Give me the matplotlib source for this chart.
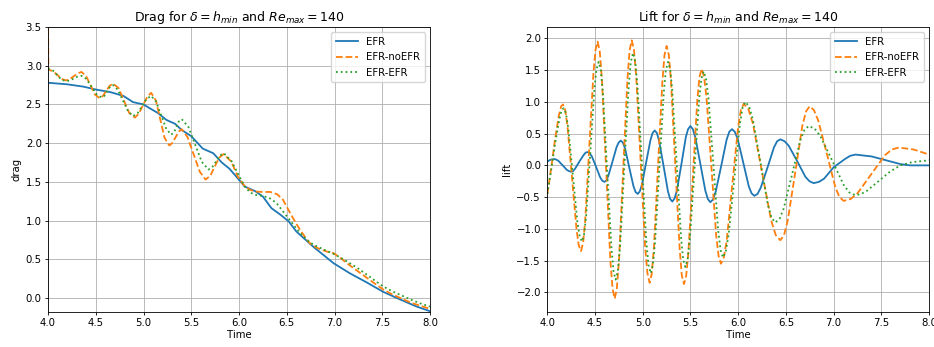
import matplotlib
matplotlib.use("Agg")
import matplotlib.pyplot as plt

# ---------------------------------------------------------------------------
# Data
# ---------------------------------------------------------------------------
LABELS = ["EFR", "EFR-noEFR", "EFR-EFR"]

drag_efr_t = [4.00, 4.20, 4.37, 4.51, 4.65, 4.79, 4.89, 5.00, 5.08, 5.15, 5.24,
              5.33, 5.40, 5.50, 5.62, 5.73, 5.82, 5.90, 5.97, 6.06, 6.17, 6.25,
              6.34, 6.43, 6.52, 6.60, 6.69, 6.79, 6.90, 6.99, 7.16, 7.34, 7.51,
              7.69, 7.86, 8.00]
drag_efr_v = [2.78, 2.76, 2.73, 2.69, 2.66, 2.61, 2.53, 2.50, 2.44, 2.39, 2.30,
              2.25, 2.17, 2.09, 1.93, 1.87, 1.75, 1.67, 1.57, 1.44, 1.38, 1.31,
              1.16, 1.08, 0.99, 0.86, 0.76, 0.65, 0.54, 0.45, 0.32, 0.20, 0.08,
              -0.02, -0.11, -0.17]

drag_noefr_t = [4.000, 4.004, 4.05, 4.10, 4.14, 4.19, 4.23, 4.27, 4.31, 4.35,
                4.397, 4.445, 4.49, 4.54, 4.575, 4.61, 4.645, 4.68, 4.74, 4.795,
                4.85, 4.91, 4.95, 4.995, 5.04, 5.08, 5.13, 5.175, 5.22, 5.27,
                5.30, 5.335, 5.37, 5.40, 5.46, 5.525, 5.59, 5.65, 5.70, 5.745,
                5.79, 5.84, 5.92, 5.99, 6.05, 6.11, 6.17, 6.25, 6.33, 6.40,
                6.46, 6.53, 6.59, 6.64, 6.69, 6.74, 6.80, 6.85, 6.92, 6.99,
                7.06, 7.13, 7.24, 7.34, 7.43, 7.51, 7.60, 7.69, 7.80, 7.90, 8.00]
drag_noefr_v = [3.60, 2.95, 2.93, 2.88, 2.83, 2.81, 2.83, 2.865, 2.90, 2.92,
                2.87, 2.75, 2.63, 2.58, 2.61, 2.675, 2.74, 2.77, 2.71, 2.55,
                2.39, 2.33, 2.38, 2.49, 2.60, 2.65, 2.55, 2.31, 2.07, 1.97,
                2.00, 2.075, 2.15, 2.18, 2.08, 1.855, 1.63, 1.53, 1.58, 1.695,
                1.81, 1.86, 1.76, 1.56, 1.46, 1.40, 1.375, 1.37, 1.37, 1.34,
                1.27, 1.11, 0.98, 0.88, 0.79, 0.71, 0.66, 0.63, 0.60, 0.58,
                0.52, 0.45, 0.35, 0.26, 0.18, 0.11, 0.05, 0.00, -0.06, -0.10, -0.14]

drag_efrefr_t = [4.00, 4.05, 4.095, 4.14, 4.19, 4.23, 4.27, 4.31, 4.35, 4.40,
                 4.455, 4.51, 4.56, 4.59, 4.62, 4.65, 4.68, 4.73, 4.785, 4.84,
                 4.89, 4.94, 4.985, 5.03, 5.08, 5.13, 5.185, 5.24, 5.29, 5.32,
                 5.345, 5.37, 5.40, 5.47, 5.54, 5.61, 5.68, 5.72, 5.76, 5.80,
                 5.84, 5.92, 6.00, 6.06, 6.12, 6.18, 6.25, 6.32, 6.39, 6.46,
                 6.53, 6.60, 6.67, 6.74, 6.81, 6.90, 6.99, 7.08, 7.16, 7.25,
                 7.34, 7.43, 7.51, 7.60, 7.69, 7.80, 7.90, 8.00]
drag_efrefr_v = [2.96, 2.94, 2.88, 2.82, 2.80, 2.81, 2.835, 2.86, 2.87, 2.83,
                 2.73, 2.63, 2.59, 2.61, 2.67, 2.73, 2.75, 2.69, 2.55, 2.41,
                 2.35, 2.39, 2.48, 2.57, 2.61, 2.54, 2.36, 2.18, 2.11, 2.14,
                 2.21, 2.28, 2.31, 2.21, 1.985, 1.76, 1.66, 1.69, 1.765, 1.84,
                 1.87, 1.77, 1.58, 1.44, 1.36, 1.33, 1.32, 1.29, 1.23, 1.12,
                 1.01, 0.90, 0.80, 0.72, 0.67, 0.62, 0.57, 0.51, 0.45, 0.38,
                 0.30, 0.22, 0.15, 0.09, 0.04, -0.02, -0.07, -0.11]

lift_efr_t = [4.000, 4.035, 4.073, 4.095, 4.117, 4.161, 4.204, 4.226, 4.248, 4.270,
              4.292, 4.336, 4.379, 4.401, 4.423, 4.445, 4.467, 4.510, 4.554, 4.575,
              4.597, 4.619, 4.640, 4.683, 4.726, 4.748, 4.769, 4.791, 4.814, 4.858,
              4.903, 4.925, 4.947, 4.969, 4.992, 5.036, 5.081, 5.103, 5.125, 5.148,
              5.171, 5.218, 5.264, 5.287, 5.310, 5.334, 5.357, 5.405, 5.452, 5.475,
              5.499, 5.525, 5.551, 5.604, 5.656, 5.682, 5.708, 5.736, 5.765, 5.822,
              5.878, 5.907, 5.935, 5.964, 5.994, 6.052, 6.111, 6.140, 6.169, 6.203,
              6.237, 6.306, 6.374, 6.408, 6.442, 6.486, 6.529, 6.617, 6.704, 6.747,
              6.791, 6.846, 6.900, 7.000, 7.119, 7.173, 7.228, 7.40, 7.55, 7.70,
              7.80, 8.00]
lift_efr_v = [0.06, 0.09, 0.10, 0.09, 0.07, 0.00, -0.07, -0.09, -0.10, -0.09,
              -0.05, 0.06, 0.16, 0.20, 0.21, 0.19, 0.14, -0.02, -0.19, -0.24,
              -0.26, -0.24, -0.16, 0.06, 0.29, 0.36, 0.39, 0.36, 0.27, -0.03,
              -0.33, -0.42, -0.45, -0.41, -0.30, 0.05, 0.40, 0.51, 0.55, 0.51,
              0.39, -0.01, -0.41, -0.53, -0.57, -0.52, -0.40, 0.02, 0.45, 0.57,
              0.62, 0.57, 0.44, 0.02, -0.40, -0.53, -0.58, -0.54, -0.41, -0.01,
              0.40, 0.53, 0.57, 0.53, 0.42, 0.05, -0.33, -0.44, -0.48, -0.45,
              -0.35, -0.04, 0.28, 0.38, 0.41, 0.38, 0.31, 0.07, -0.18, -0.25,
              -0.28, -0.26, -0.21, -0.03, 0.10, 0.15, 0.17, 0.14, 0.08, 0.02,
              0.00, 0.00]

lift_noefr_t = [4.000, 4.040, 4.080, 4.120, 4.145, 4.164, 4.188, 4.211, 4.259, 4.306,
                4.329, 4.353, 4.375, 4.397, 4.440, 4.484, 4.505, 4.527, 4.549, 4.572,
                4.617, 4.661, 4.684, 4.706, 4.728, 4.751, 4.795, 4.840, 4.862, 4.884,
                4.908, 4.931, 4.978, 5.025, 5.049, 5.072, 5.094, 5.117, 5.161, 5.206,
                5.228, 5.250, 5.273, 5.296, 5.341, 5.387, 5.409, 5.432, 5.455, 5.478,
                5.525, 5.571, 5.594, 5.617, 5.642, 5.668, 5.719, 5.769, 5.795, 5.820,
                5.850, 5.880, 5.939, 5.999, 6.028, 6.058, 6.106, 6.154, 6.250, 6.346,
                6.394, 6.442, 6.480, 6.519, 6.596, 6.672, 6.711, 6.749, 6.794, 6.838,
                6.928, 7.017, 7.061, 7.106, 7.178, 7.250, 7.394, 7.538, 7.610, 7.682,
                7.840, 8.000]
lift_noefr_v = [-0.45, -0.05, 0.40, 0.78, 0.93, 0.96, 0.87, 0.62, -0.20, -1.01,
                -1.26, -1.35, -1.22, -0.87, 0.30, 1.47, 1.82, 1.95, 1.80, 1.36,
                -0.08, -1.51, -1.95, -2.10, -1.95, -1.50, -0.07, 1.37, 1.81, 1.97,
                1.82, 1.41, 0.06, -1.29, -1.70, -1.85, -1.71, -1.30, 0.02, 1.33,
                1.74, 1.88, 1.74, 1.33, 0.00, -1.32, -1.73, -1.87, -1.74, -1.37,
                -0.18, 1.02, 1.39, 1.52, 1.40, 1.07, -0.02, -1.10, -1.43, -1.55,
                -1.45, -1.18, -0.29, 0.60, 0.87, 0.97, 0.89, 0.66, -0.11, -0.87,
                -1.10, -1.18, -1.10, -0.87, -0.13, 0.62, 0.85, 0.93, 0.87, 0.71,
                0.19, -0.34, -0.50, -0.56, -0.53, -0.44, -0.14, 0.16, 0.25, 0.28,
                0.25, 0.17]

lift_efrefr_t = [4.000, 4.040, 4.080, 4.125, 4.150, 4.171, 4.195, 4.219, 4.267, 4.315,
                 4.339, 4.363, 4.385, 4.407, 4.451, 4.494, 4.516, 4.538, 4.560, 4.583,
                 4.627, 4.672, 4.694, 4.716, 4.739, 4.762, 4.807, 4.853, 4.875, 4.898,
                 4.921, 4.944, 4.991, 5.037, 5.060, 5.083, 5.106, 5.129, 5.174, 5.220,
                 5.242, 5.265, 5.288, 5.310, 5.356, 5.401, 5.423, 5.446, 5.470, 5.494,
                 5.542, 5.590, 5.614, 5.638, 5.663, 5.689, 5.740, 5.790, 5.816, 5.841,
                 5.870, 5.900, 5.958, 6.017, 6.046, 6.075, 6.114, 6.154, 6.233, 6.311,
                 6.351, 6.390, 6.434, 6.477, 6.565, 6.652, 6.695, 6.739, 6.800, 6.861,
                 6.984, 7.106, 7.167, 7.228, 7.290, 7.350, 7.470, 7.590, 7.700, 7.820,
                 8.000]
lift_efrefr_v = [-0.45, -0.08, 0.33, 0.72, 0.87, 0.90, 0.82, 0.59, -0.15, -0.89,
                 -1.12, -1.20, -1.09, -0.79, 0.22, 1.22, 1.52, 1.63, 1.50, 1.13,
                 -0.09, -1.30, -1.67, -1.80, -1.66, -1.28, -0.02, 1.25, 1.63, 1.77,
                 1.64, 1.26, 0.04, -1.19, -1.57, -1.70, -1.57, -1.21, -0.04, 1.14,
                 1.50, 1.63, 1.51, 1.16, 0.02, -1.13, -1.48, -1.60, -1.48, -1.15,
                 -0.06, 1.03, 1.36, 1.48, 1.37, 1.05, 0.02, -1.02, -1.34, -1.45,
                 -1.36, -1.09, -0.23, 0.64, 0.91, 1.00, 0.93, 0.72, 0.05, -0.62,
                 -0.83, -0.90, -0.84, -0.68, -0.14, 0.40, 0.56, 0.62, 0.58, 0.46,
                 0.08, -0.31, -0.43, -0.47, -0.45, -0.40, -0.25, -0.10, 0.00, 0.05,
                 0.08]

STYLES = [("#1f77b4", "-"), ("#ff7f0e", "--"), ("#2ca02c", ":")]
FS = 7.3


def panel(ax, series, title, ylabel, ylim):
    for (t, v), lab, (c, ls) in zip(series, LABELS, STYLES):
        ax.plot(t, v, color=c, linestyle=ls, lw=1.3, label=lab)
    ax.set_xlim(4, 8)
    ax.set_ylim(*ylim)
    ax.grid(True, color="#b0b0b0", lw=0.6)
    ax.set_title(title, fontsize=9, pad=4)
    ax.set_xlabel("Time", fontsize=FS, labelpad=1)
    ax.set_ylabel(ylabel, fontsize=FS, labelpad=3)
    ax.tick_params(labelsize=FS, length=2.5, width=0.6, pad=2)
    for s in ax.spines.values():
        s.set_linewidth(0.6)
    ax.legend(loc="upper right", fontsize=FS, handlelength=2.2, borderpad=0.45,
              labelspacing=0.55, handletextpad=0.8, framealpha=0.8)


fig = plt.figure(figsize=(9.34, 3.47), dpi=100)
ax1 = fig.add_axes([0.0514, 0.1009, 0.409, 0.8213])
ax2 = fig.add_axes([0.586, 0.1009, 0.4087, 0.8213])

panel(ax1, [(drag_efr_t, drag_efr_v), (drag_noefr_t, drag_noefr_v),
            (drag_efrefr_t, drag_efrefr_v)],
      r"Drag for $\delta = h_{min}$ and $Re_{max} = 140$", "drag", (-0.18, 3.5))
panel(ax2, [(lift_efr_t, lift_efr_v), (lift_noefr_t, lift_noefr_v),
            (lift_efrefr_t, lift_efrefr_v)],
      r"Lift for $\delta = h_{min}$ and $Re_{max} = 140$", "lift", (-2.31, 2.18))

fig.savefig("out.png", dpi=100)
